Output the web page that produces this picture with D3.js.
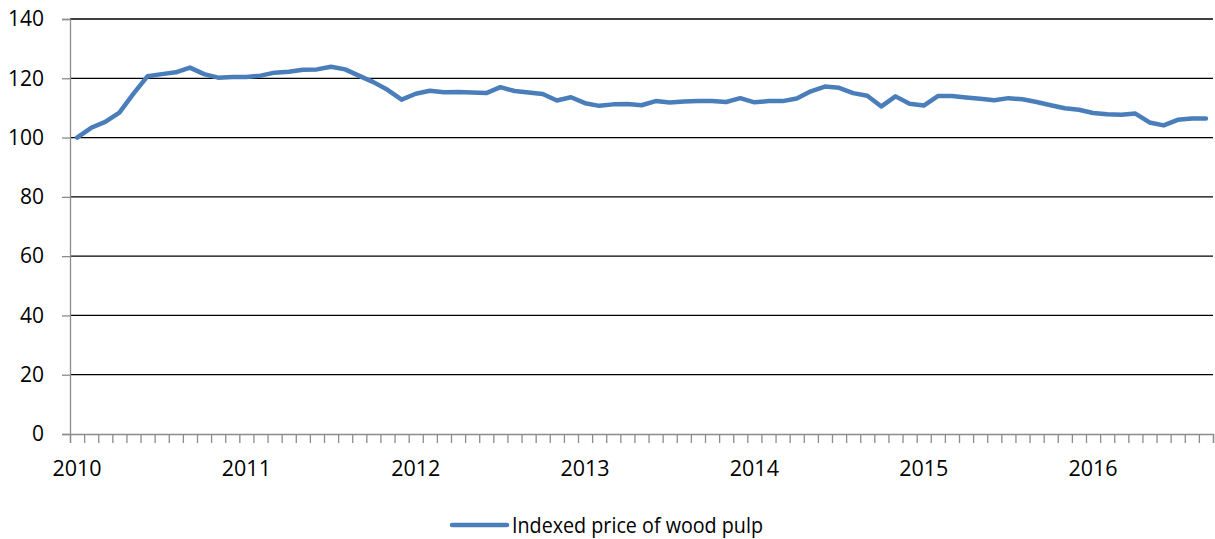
<!DOCTYPE html>
<html>
<head>
<meta charset="utf-8">
<script src="https://cdn.jsdelivr.net/npm/d3@7"></script>
<style>
  body { margin: 0; background: #fff; }
  svg text { font-family: "Open Sans", "DejaVu Sans", sans-serif; fill: #000; }
</style>
</head>
<body>
<svg id="chart" width="1215" height="539"></svg>
<script>
// monthly index, Jan 2010 .. Sep 2016
var years = ["2010", "2011", "2012", "2013", "2014", "2015", "2016"];
var yTicks = [0, 20, 40, 60, 80, 100, 120, 140];
var seriesName = "Indexed price of wood pulp";
var pulp = [
  100, 103.3, 105.3, 108.4, 114.8, 120.7, 121.4, 122, 123.6, 121.4, 120.2, 120.4,
  120.4, 120.9, 121.9, 122.2, 122.9, 123, 123.9, 123, 120.8, 118.7, 116.1, 112.8,
  114.8, 115.8, 115.3, 115.4, 115.2, 115, 117, 115.7, 115.2, 114.7, 112.5, 113.6,
  111.6, 110.7, 111.2, 111.3, 110.9, 112.3, 111.8, 112.2, 112.3, 112.3, 112, 113.3,
  111.9, 112.3, 112.3, 113.2, 115.6, 117.2, 116.8, 115, 114.1, 110.5, 113.9, 111.4,
  110.8, 114, 114, 113.5, 113.1, 112.6, 113.3, 112.9, 112, 110.9, 109.9, 109.4,
  108.3, 107.9, 107.7, 108.1, 105.1, 104.1, 106, 106.4, 106.4
];

var margin = {left: 70, right: 2, top: 19, bottom: 105};
var width = 1215, height = 539;
var svg = d3.select("#chart");

var x = d3.scaleLinear()
  .domain([0, pulp.length])
  .range([margin.left, width - margin.right]);

var y = d3.scaleLinear()
  .domain([0, 140])
  .range([height - margin.bottom, margin.top]);

// gridlines
svg.append("g")
  .selectAll("line")
  .data(yTicks.filter(function(d){ return d > 0; }))
  .enter().append("line")
  .attr("x1", x(0))
  .attr("x2", x(pulp.length))
  .attr("y1", function(d){ return y(d); })
  .attr("y2", function(d){ return y(d); })
  .style("stroke", "#000")
  .style("stroke-width", 1.3);

// y axis
var yAxis = svg.append("g")
  .attr("transform", "translate(" + x(0) + ",0)")
  .call(d3.axisLeft(y).tickValues(yTicks).tickSize(8).tickPadding(18));
yAxis.select(".domain").style("stroke", "#8c8c8c").style("stroke-width", 1.3);
yAxis.selectAll(".tick line").style("stroke", "#8c8c8c").style("stroke-width", 1.3);
yAxis.selectAll("text")
  .attr("font-size", null)
  .style("font-size", "21px")
  .style("font-family", "'Open Sans', sans-serif");

// x axis: tick marks between months
var xAxis = svg.append("g")
  .attr("transform", "translate(0," + y(0) + ")")
  .call(d3.axisBottom(x).tickValues(d3.range(0, pulp.length + 1)).tickSize(9).tickFormat(""));
xAxis.select(".domain").style("stroke", "#8c8c8c").style("stroke-width", 1.3);
xAxis.selectAll(".tick line").style("stroke", "#8c8c8c").style("stroke-width", 1.3);

svg.append("g")
  .selectAll("text")
  .data(years)
  .enter().append("text")
  .attr("x", function(d, i){ return x(i * 12 + 0.5); })
  .attr("y", y(0) + 42)
  .attr("text-anchor", "middle")
  .style("font-size", "21.5px")
  .text(function(d){ return d; });

// series line
var line = d3.line()
  .x(function(d, i){ return x(i + 0.5); })
  .y(function(d){ return y(d); });

svg.append("path")
  .datum(pulp)
  .attr("d", line)
  .style("fill", "none")
  .style("stroke", "#4a7ebb")
  .style("stroke-width", 4.5)
  .style("stroke-linejoin", "round")
  .style("stroke-linecap", "round");

// legend
var legend = svg.append("g").attr("transform", "translate(452,525)");
legend.append("line")
  .attr("x1", 0).attr("x2", 55)
  .style("stroke", "#4a7ebb")
  .style("stroke-width", 4.5)
  .style("stroke-linecap", "round");
legend.append("text")
  .attr("x", 60)
  .attr("y", 8)
  .attr("textLength", 251)
  .attr("lengthAdjust", "spacingAndGlyphs")
  .style("font-size", "21px")
  .text(seriesName);
</script>
</body>
</html>
